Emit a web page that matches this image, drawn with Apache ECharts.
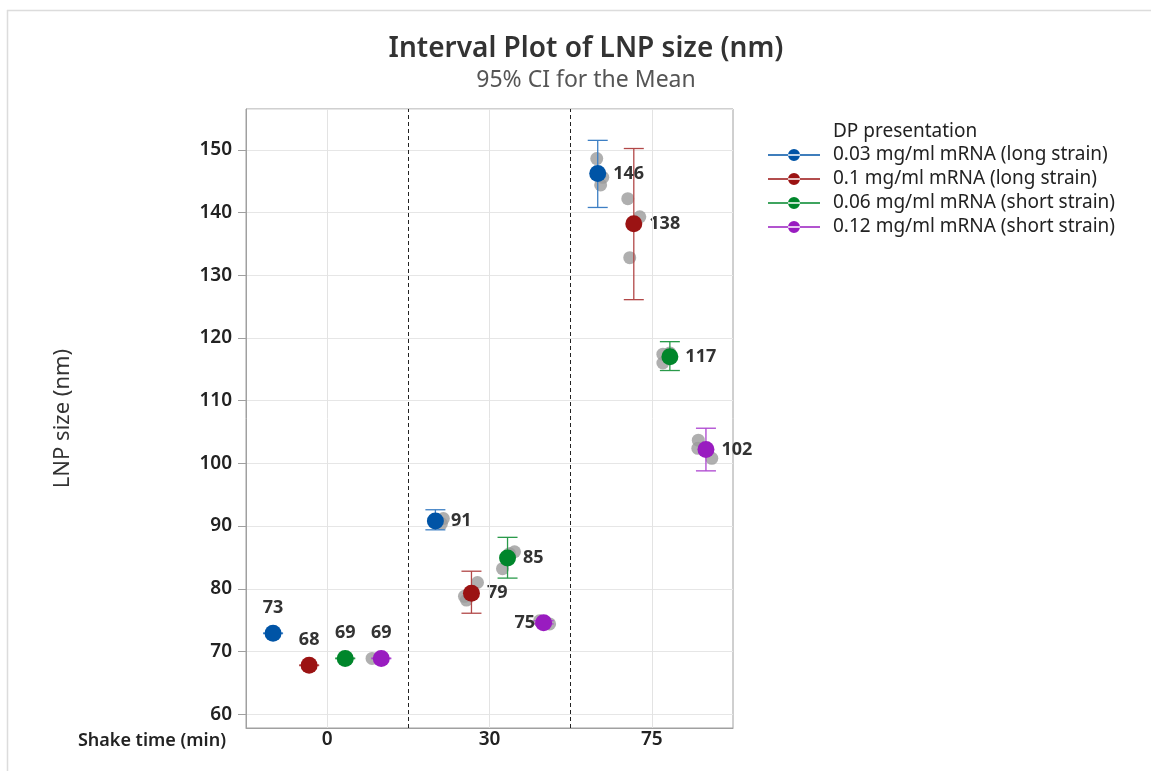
<!DOCTYPE html>
<html>
<head>
<meta charset="utf-8">
<title>Interval Plot of LNP size (nm)</title>
<script src="https://cdn.jsdelivr.net/npm/echarts@6.0.0/dist/echarts.min.js"></script>
<style>
  html, body { margin: 0; padding: 0; background: #fff; }
  #chart { width: 1151px; height: 771px; }
</style>
</head>
<body>
<div id="chart"></div>
<script>
  // x axis groups
  const shakeTimes = ['0', '30', '75']

  // legend groups (DP presentation)
  const groupNames = [
    '0.03 mg/ml mRNA (long strain)',
    '0.1 mg/ml mRNA (long strain)',
    '0.06 mg/ml mRNA (short strain)',
    '0.12 mg/ml mRNA (short strain)'
  ]

  // mean LNP size, one value per shake time
  const meanSize = [
    [72.9, 90.8, 146.2],
    [67.8, 79.3, 138.2],
    [68.9, 84.9, 117.0],
    [68.9, 74.6, 102.2]
  ]

  // 95% CI for the mean
  const ciLower = [
    [72.85, 89.4, 140.8],
    [67.75, 76.1, 126.1],
    [68.85, 81.7, 114.8],
    [68.85, 74.4, 98.8]
  ]
  const ciUpper = [
    [72.95, 92.6, 151.5],
    [67.85, 82.8, 150.2],
    [68.95, 88.2, 119.4],
    [68.95, 74.9, 105.6]
  ]

  // individual measurements (3 per group and shake time)
  const replicates = [
    [[72.8, 73.0, 72.9], [91.2, 90.4, 90.8], [148.6, 145.6, 144.4]],
    [[67.8, 67.9, 67.7], [81.0, 78.8, 78.2], [142.2, 139.3, 132.8]],
    [[68.8, 68.9, 68.9], [85.9, 83.2, 85.6], [117.4, 116.0, 117.6]],
    [[68.9, 68.9, 68.9], [74.4, 74.9, 74.6], [103.7, 102.4, 100.8]]
  ]
  // sideways jitter of the measurements, as seen in the picture
  const replicateJitter = [
    [[0, 0, 0], [0.049, 0.037, 0], [-0.006, 0.031, 0.018]],
    [[-0.012, 0, 0], [0.037, -0.043, -0.031], [-0.037, 0.037, -0.025]],
    [[0.012, 0, 0], [0.043, -0.031, 0.012], [-0.043, -0.043, 0]],
    [[-0.057, 0, 0.006], [0.037, -0.025, 0.012], [-0.047, -0.05, 0.036]]
  ]

  const colors = ['#0054a6', '#9b1313', '#00862b', '#991cc0']
  const barColors = ['#3d7fc4', '#b24848', '#2a9a4a', '#ad45d0']
  const font = 'Noto Sans'

  // where each group sits inside a shake time band
  const dodge = (g) => (g - 1.5) * 2 / 9

  const labelPlace = (g, t) => {
    if (t === 0) return {position: 'top', distance: 8}
    if (g === 3 && t === 1) return {position: 'left', distance: 0}
    return {position: 'right', distance: 7}
  }

  const chart = echarts.init(document.getElementById('chart'))

  let series = []

  // grey individual points + grid lines / dashed separators
  let greyData = []
  replicates.forEach((grp, g) => {
    grp.forEach((vals, t) => {
      vals.forEach((v, k) => {
        greyData.push([t + dodge(g) + replicateJitter[g][t][k], v])
      })
    })
  })
  series.push({
    type: 'scatter',
    name: 'points',
    data: greyData,
    symbolSize: 13,
    itemStyle: {color: '#9b9b9b'},
    z: 2,
    silent: true,
    markLine: {
      silent: true,
      symbol: 'none',
      label: {show: false},
      animation: false,
      data: [
        {xAxis: 0, lineStyle: {color: '#e3e3e3', type: 'solid', width: 1}},
        {xAxis: 1, lineStyle: {color: '#e3e3e3', type: 'solid', width: 1}},
        {xAxis: 2, lineStyle: {color: '#e3e3e3', type: 'solid', width: 1}},
        {xAxis: 0.5, lineStyle: {color: '#222', type: [4, 3], width: 1}},
        {xAxis: 1.5, lineStyle: {color: '#222', type: [4, 3], width: 1}}
      ]
    }
  })

  groupNames.forEach((name, g) => {
    // error bars
    series.push({
      type: 'custom',
      name: name,
      z: 3,
      silent: true,
      data: shakeTimes.map((s, t) => [t + dodge(g), ciLower[g][t], ciUpper[g][t]]),
      encode: {x: 0, y: [1, 2]},
      renderItem: (params, api) => {
        const x = api.value(0)
        const lo = api.coord([x, api.value(1)])
        const hi = api.coord([x, api.value(2)])
        const half = 10
        const style = {stroke: barColors[g], lineWidth: 1.3}
        return {
          type: 'group',
          children: [
            {type: 'line', shape: {x1: lo[0], y1: lo[1], x2: hi[0], y2: hi[1]}, style: style},
            {type: 'line', shape: {x1: lo[0] - half, y1: lo[1], x2: lo[0] + half, y2: lo[1]}, style: style},
            {type: 'line', shape: {x1: hi[0] - half, y1: hi[1], x2: hi[0] + half, y2: hi[1]}, style: style}
          ]
        }
      }
    })
    // means
    series.push({
      type: 'scatter',
      name: name,
      z: 4,
      symbolSize: 17,
      itemStyle: {color: colors[g], opacity: 1},
      data: meanSize[g].map((v, t) => ({
        value: [t + dodge(g), v],
        label: labelPlace(g, t)
      })),
      label: {
        show: true,
        formatter: (p) => Math.round(p.value[1]),
        fontFamily: font,
        fontSize: 18,
        fontWeight: 'bold',
        color: '#333'
      }
    })
  })

  const option = {
    animation: false,
    color: colors,
    title: [
      {
        text: 'Interval Plot of LNP size (nm)',
        subtext: '95% CI for the Mean',
        left: 581,
        top: 30,
        textAlign: 'center',
        itemGap: 6,
        textStyle: {fontFamily: font, fontSize: 28, fontWeight: 600, color: '#333'},
        subtextStyle: {fontFamily: font, fontSize: 23, color: '#555'}
      },
      {
        text: 'DP presentation',
        left: 833,
        top: 121,
        padding: 0,
        textStyle: {fontFamily: font, fontSize: 19, fontWeight: 'normal', color: '#222', lineHeight: 22}
      }
    ],
    legend: {
      orient: 'vertical',
      left: 768,
      top: 144,
      padding: 0,
      itemWidth: 52,
      itemHeight: 12,
      itemGap: 2,
      selectedMode: false,
      data: groupNames.map((n) => ({
        name: n,
        icon: 'path://M0,5.3h52v1.4h-52z M20,6a6,6 0 1,0 12,0a6,6 0 1,0 -12,0z'
      })),
      textStyle: {fontFamily: font, fontSize: 19, color: '#222', lineHeight: 22, padding: [0, 0, 0, 8]}
    },
    grid: {
      left: 246,
      right: 418,
      top: 109,
      bottom: 43,
      show: true,
      borderColor: '#a0a0a0',
      borderWidth: 1,
      outerBoundsMode: 'none'
    },
    xAxis: {
      type: 'value',
      min: -0.5,
      max: 2.5,
      interval: 0.5,
      axisLine: {show: true, onZero: false, lineStyle: {color: '#a0a0a0'}},
      axisTick: {show: false},
      splitLine: {show: false},
      axisLabel: {
        margin: 2,
        fontFamily: font,
        fontSize: 19,
        fontWeight: 600,
        color: '#222',
        formatter: (v) => {
          const r = Math.round(v)
          return Math.abs(v - r) < 1e-6 && shakeTimes[r] !== undefined ? shakeTimes[r] : ''
        }
      }
    },
    yAxis: {
      type: 'value',
      min: 57.8,
      max: 156.5,
      splitNumber: 10,
      name: 'LNP size (nm)',
      nameLocation: 'middle',
      nameGap: 172,
      nameTextStyle: {fontFamily: font, fontSize: 22, color: '#333'},
      axisLine: {show: true, onZero: false, lineStyle: {color: '#a0a0a0'}},
      axisTick: {show: true, length: 8, lineStyle: {color: '#a0a0a0'}},
      splitLine: {show: true, lineStyle: {color: '#e6e6e6'}},
      axisLabel: {
        showMinLabel: false,
        showMaxLabel: false,
        margin: 14,
        fontFamily: font,
        fontSize: 19,
        fontWeight: 600,
        color: '#222'
      }
    },
    graphic: [
      {type: 'line', shape: {x1: 7.5, y1: 10, x2: 7.5, y2: 771}, style: {stroke: '#dcdcdc', lineWidth: 1.5}, silent: true},
      {type: 'line', shape: {x1: 7, y1: 10.5, x2: 1151, y2: 10.5}, style: {stroke: '#dcdcdc', lineWidth: 1.5}, silent: true},
      {
        type: 'text',
        right: 1151 - 226,
        top: 732,
        style: {text: 'Shake time (min)', fontFamily: font, fontSize: 18, fontWeight: 600, fill: '#222'}
      }
    ],
    series: series
  }

  chart.setOption(option)
</script>
</body>
</html>
